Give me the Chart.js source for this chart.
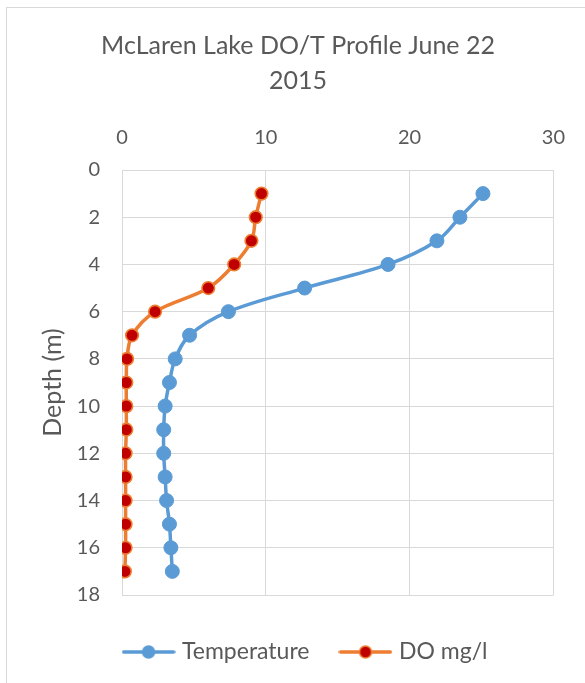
<!DOCTYPE html>
<html>
<head>
<meta charset="utf-8">
<script src="https://cdn.jsdelivr.net/npm/chart.js@4/dist/chart.umd.min.js"></script>
<style>
  html, body { margin: 0; padding: 0; background: #fff; }
  #wrap { position: relative; width: 585px; height: 683px; }
</style>
</head>
<body>
<div id="wrap"><canvas id="c" width="585" height="683"></canvas></div>
<script>
// Depth profile readings (m)
const depths = [1, 2, 3, 4, 5, 6, 7, 8, 9, 10, 11, 12, 13, 14, 15, 16, 17];
// Water temperature (°C) at each depth
const temperature = [25.1, 23.5, 21.9, 18.5, 12.7, 7.4, 4.7, 3.7, 3.3, 3.0, 2.9, 2.9, 3.0, 3.1, 3.3, 3.4, 3.5];
// Dissolved oxygen (mg/l) at each depth
const dissolvedOxygen = [9.7, 9.3, 9.0, 7.8, 6.0, 2.3, 0.7, 0.35, 0.3, 0.3, 0.3, 0.25, 0.25, 0.25, 0.25, 0.25, 0.2];
const xTicks = [0, 10, 20, 30];
const yTicks = [0, 2, 4, 6, 8, 10, 12, 14, 16, 18];
const seriesNames = ['Temperature', 'DO mg/l'];
const titleLines = ['McLaren Lake DO/T Profile June 22', '2015'];

const TEXT = '#595959';
const GRID = '#d9d9d9';
const BLUE = '#5b9bd5';
const ORANGE = '#ed7d31';
const RED = '#c00000';
const FONT = 'Lato, "Open Sans", sans-serif';

function toPoints(xs) { return depths.map((d, i) => ({ x: xs[i], y: d })); }

// Legend swatch: a short line with the series marker in the middle
function swatch(line, fill, stroke) {
  const c = document.createElement('canvas');
  c.width = 54; c.height = 18;
  const g = c.getContext('2d');
  g.strokeStyle = line; g.lineWidth = 3.5; g.lineCap = 'round';
  g.beginPath(); g.moveTo(2, 9); g.lineTo(52, 9); g.stroke();
  g.beginPath(); g.arc(27, 9, 6, 0, Math.PI * 2);
  g.fillStyle = fill; g.fill();
  g.lineWidth = 1.5; g.strokeStyle = stroke; g.stroke();
  return c;
}
const swatches = [swatch(BLUE, BLUE, BLUE), swatch(ORANGE, RED, ORANGE)];

// Outer chart frame plus a small nudge of the legend row
const frame = {
  id: 'frame',
  afterLayout(chart) {
    chart.legend.left += 9;
    chart.legend.right += 9;
  },
  beforeDraw(chart) {
    const ctx = chart.ctx;
    ctx.save();
    ctx.fillStyle = '#fff';
    ctx.fillRect(0, 0, chart.width, chart.height);
    ctx.strokeStyle = GRID; ctx.lineWidth = 1;
    ctx.strokeRect(6.5, 7.5, 640, 720);
    ctx.restore();
  }
};

new Chart(document.getElementById('c'), {
  type: 'scatter',
  data: {
    datasets: [
      {
        label: seriesNames[0],
        data: toPoints(temperature),
        showLine: true,
        borderColor: BLUE,
        backgroundColor: BLUE,
        borderWidth: 3.5,
        tension: 0.35,
        pointRadius: 7,
        pointBorderWidth: 1,
        pointBorderColor: BLUE,
        pointBackgroundColor: BLUE
      },
      {
        label: seriesNames[1],
        data: toPoints(dissolvedOxygen),
        showLine: true,
        borderColor: ORANGE,
        backgroundColor: RED,
        borderWidth: 3.5,
        tension: 0.35,
        pointRadius: 6.3,
        pointBorderWidth: 1.6,
        pointBorderColor: ORANGE,
        pointBackgroundColor: RED
      }
    ]
  },
  options: {
    responsive: false,
    animation: false,
    devicePixelRatio: 1,
    layout: { padding: { left: 33, right: 22, top: 0, bottom: 9.5 } },
    plugins: {
      title: {
        display: true,
        text: titleLines,
        color: TEXT,
        font: { family: FONT, size: 25, weight: 'normal', lineHeight: 1.4 },
        padding: { top: 28, bottom: 0 }
      },
      legend: {
        display: true,
        position: 'bottom',
        title: { display: true, text: '', font: { size: 10, lineHeight: 1.15 }, padding: 0 },
        labels: {
          color: TEXT,
          font: { family: FONT, size: 23 },
          usePointStyle: true,
          pointStyleWidth: 44,
          padding: 34,
          generateLabels(chart) {
            return chart.data.datasets.map((ds, i) => ({
              text: ds.label,
              pointStyle: swatches[i],
              fillStyle: ds.backgroundColor,
              strokeStyle: ds.borderColor,
              lineWidth: 0,
              hidden: false,
              datasetIndex: i,
              fontColor: TEXT
            }));
          }
        }
      },
      tooltip: { enabled: false }
    },
    scales: {
      x: {
        type: 'linear',
        position: 'top',
        min: 0, max: 30,
        afterBuildTicks(s) { s.ticks = xTicks.map(v => ({ value: v })); },
        afterFit(s) { s.height = 72; },
        grid: { color: GRID, lineWidth: 1, drawTicks: false },
        border: { display: false },
        ticks: { color: TEXT, font: { family: FONT, size: 20 }, padding: 20 }
      },
      y: {
        type: 'linear',
        reverse: true,
        min: 0, max: 18,
        afterBuildTicks(s) { s.ticks = yTicks.map(v => ({ value: v })); },
        afterFit(s) { s.width = 89; },
        grid: { color: GRID, lineWidth: 1, drawTicks: false },
        border: { display: false },
        title: {
          display: true,
          text: 'Depth (m)',
          color: TEXT,
          font: { family: FONT, size: 25, lineHeight: 1.2 },
          padding: { top: 5, bottom: 0 }
        },
        ticks: { color: TEXT, font: { family: FONT, size: 20 }, padding: 22 }
      }
    }
  },
  plugins: [frame]
});
</script>
</body>
</html>
